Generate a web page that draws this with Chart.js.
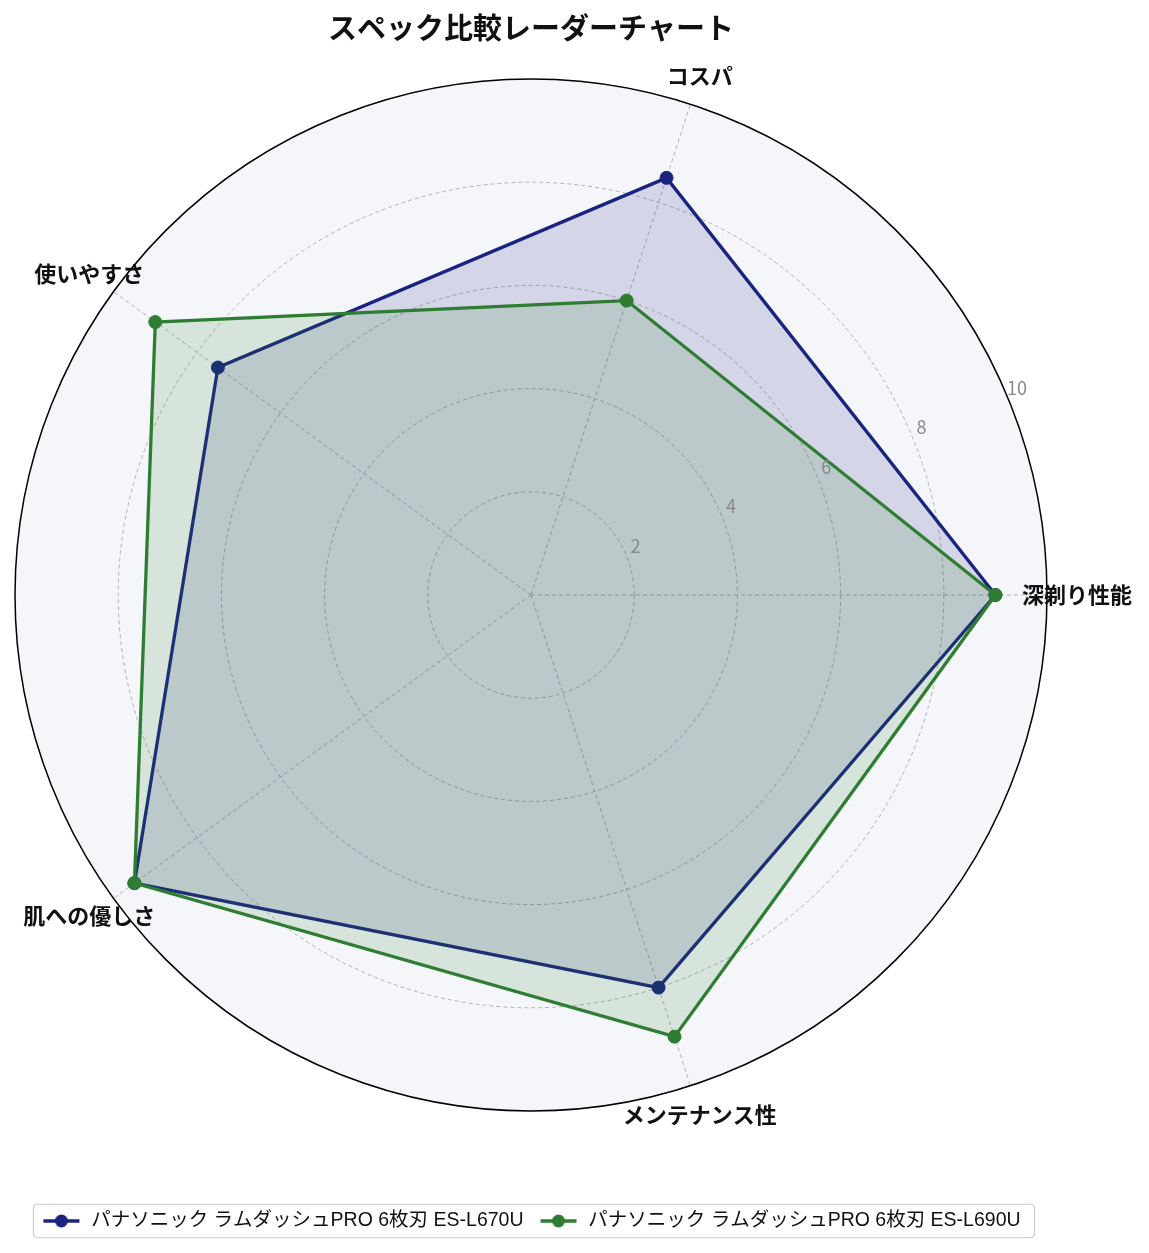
<!DOCTYPE html>
<html lang="ja">
<head>
<meta charset="UTF-8">
<title>スペック比較レーダーチャート</title>
<style>
    html, body { margin: 0; padding: 0; background: #ffffff; }
    #wrap { width: 1149px; height: 1253px; }
</style>
</head>
<body>
<div id="wrap"><canvas id="radar" width="1149" height="1253"></canvas></div>

<script src="https://cdn.jsdelivr.net/npm/chart.js"></script>
<script>
// data (in the reference's counter-clockwise order, starting at 3 o'clock)
const categories = ['深剃り性能', 'コスパ', '使いやすさ', '肌への優しさ', 'メンテナンス性'];
const seriesNames = ['パナソニック ラムダッシュPRO 6枚刃 ES-L670U', 'パナソニック ラムダッシュPRO 6枚刃 ES-L690U'];
const valuesL670U = [9, 8.5, 7.5, 9.5, 8];
const valuesL690U = [9, 6, 9, 9.5, 9];
const tickLabels = ['2', '4', '6', '8', '10'];
const rMin = 0;
const rMax = 10;

const colors = ['#1a237e', '#2e7d32'];
const fills = ['rgba(26, 35, 126, 0.15)', 'rgba(46, 125, 50, 0.15)'];
const jpFont = "'Noto Sans CJK JP', sans-serif";

// Chart.js goes clockwise, the original goes counter-clockwise
const order = [0, 4, 3, 2, 1];
const cwLabels = order.map(i => categories[i]);
const cw = arr => order.map(i => arr[i]);

function legendMarker(color) {
    const c = document.createElement('canvas');
    c.width = 40;
    c.height = 16;
    const g = c.getContext('2d');
    g.strokeStyle = color;
    g.lineWidth = 3.3;
    g.beginPath();
    g.moveTo(2, 8);
    g.lineTo(38, 8);
    g.stroke();
    g.fillStyle = color;
    g.beginPath();
    g.arc(20, 8, 6.5, 0, Math.PI * 2);
    g.fill();
    return c;
}

// light background inside the polar area
const polarBackground = {
    id: 'polarBackground',
    beforeDraw(chart) {
        const s = chart.scales.r;
        const ctx = chart.ctx;
        ctx.save();
        ctx.fillStyle = '#f5f6fa';
        ctx.beginPath();
        ctx.arc(s.xCenter, s.yCenter, s.getDistanceFromCenterForValue(rMax), 0, Math.PI * 2);
        ctx.fill();
        ctx.restore();
    }
};

// tick labels at 22.5deg and category labels centred just outside the rim
const radarText = {
    id: 'radarText',
    afterDatasetsDraw(chart) {
        const s = chart.scales.r;
        const ctx = chart.ctx;
        ctx.save();
        ctx.textAlign = 'center';
        ctx.textBaseline = 'middle';

        ctx.font = '18px ' + jpFont;
        ctx.fillStyle = '#888888';
        const a = 22.5 * Math.PI / 180;
        tickLabels.forEach(t => {
            const d = s.getDistanceFromCenterForValue(Number(t)) + 10;
            ctx.fillText(t, s.xCenter + d * Math.cos(a), s.yCenter - d * Math.sin(a) - 6);
        });

        ctx.font = 'bold 22px ' + jpFont;
        ctx.fillStyle = '#111111';
        const out = s.getDistanceFromCenterForValue(rMax) + 30;
        chart.data.labels.forEach((lab, i) => {
            const p = s.getPointPosition(i, out);
            ctx.fillText(lab, p.x, p.y);
        });
        ctx.restore();
    }
};

// rounded frame around the legend, matplotlib style
const legendFrame = {
    id: 'legendFrame',
    afterDraw(chart) {
        const boxes = chart.legend.legendHitBoxes;
        if (!boxes || !boxes.length) return;
        const l = Math.min(...boxes.map(b => b.left)) - 8;
        const r = Math.max(...boxes.map(b => b.left + b.width)) + 14;
        const t = Math.min(...boxes.map(b => b.top)) - 7;
        const b = Math.max(...boxes.map(b => b.top + b.height)) + 7;
        const ctx = chart.ctx;
        ctx.save();
        ctx.strokeStyle = '#cccccc';
        ctx.lineWidth = 1.2;
        ctx.beginPath();
        ctx.roundRect(l, t, r - l, b - t, 4);
        ctx.stroke();
        ctx.restore();
    }
};

Chart.defaults.font.family = jpFont;

const lineStyle = {
    borderWidth: 3.3,
    pointRadius: 6.5,
    pointBorderWidth: 1,
    fill: true
};

new Chart(document.getElementById('radar'), {
    type: 'radar',
    data: {
        labels: cwLabels,
        datasets: [
            Object.assign({
                label: seriesNames[0],
                data: cw(valuesL670U),
                borderColor: colors[0],
                backgroundColor: fills[0],
                pointBackgroundColor: colors[0],
                pointBorderColor: colors[0],
                order: 2
            }, lineStyle),
            Object.assign({
                label: seriesNames[1],
                data: cw(valuesL690U),
                borderColor: colors[1],
                backgroundColor: fills[1],
                pointBackgroundColor: colors[1],
                pointBorderColor: colors[1],
                order: 1
            }, lineStyle)
        ]
    },
    options: {
        responsive: false,
        animation: false,
        layout: {
            padding: {left: 15, right: 102, top: 0, bottom: 12.25}
        },
        scales: {
            r: {
                min: rMin,
                max: rMax,
                startAngle: 90,
                ticks: {
                    stepSize: 2,
                    display: false
                },
                pointLabels: {
                    display: false
                },
                grid: {
                    circular: true,
                    color: c => (c.tick && c.tick.value === rMax) ? '#000000' : '#aaaaaa',
                    lineWidth: c => (c.tick && c.tick.value === rMax) ? 1.5 : 0.9
                },
                border: {
                    dash: c => (c.tick && c.tick.value === rMax) ? [] : [4, 3]
                },
                angleLines: {
                    color: '#aaaaaa',
                    lineWidth: 0.9,
                    borderDash: [4, 3]
                }
            }
        },
        plugins: {
            title: {
                display: true,
                text: 'スペック比較レーダーチャート',
                color: '#111111',
                font: {size: 29, weight: 'bold', lineHeight: 1.2},
                padding: {top: 10.6, bottom: 0}
            },
            legend: {
                position: 'bottom',
                title: {
                    display: true,
                    text: '',
                    font: {size: 12, lineHeight: 1.2},
                    padding: {top: 37.25, bottom: 0}
                },
                labels: {
                    usePointStyle: true,
                    pointStyleWidth: 40,
                    padding: 15,
                    color: '#111111',
                    font: {size: 19.5, family: "'Liberation Sans', 'Noto Sans CJK JP', sans-serif"},
                    generateLabels: chart => chart.data.datasets.map((ds, i) => ({
                        text: ds.label,
                        fontColor: '#111111',
                        pointStyle: legendMarker(colors[i]),
                        fillStyle: colors[i],
                        strokeStyle: colors[i],
                        lineWidth: 0,
                        hidden: false,
                        datasetIndex: i
                    }))
                }
            },
            tooltip: {enabled: false}
        }
    },
    plugins: [polarBackground, radarText, legendFrame]
});
</script>
</body>
</html>
